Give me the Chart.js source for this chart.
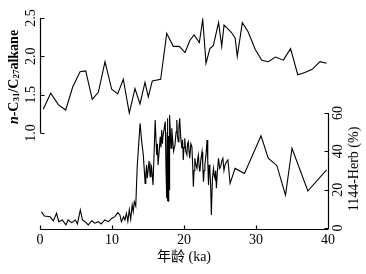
<!DOCTYPE html>
<html>
<head>
<meta charset="utf-8">
<script src="https://cdn.jsdelivr.net/npm/chart.js@4"></script>
<style>
  body { margin: 0; background: #fff; }
  #wrap { position: relative; width: 366px; height: 274px; }
  canvas { position: absolute; left: 0; top: 0; }
</style>
</head>
<body>
<div id="wrap">
  <canvas id="alkane" width="366" height="274"></canvas>
  <canvas id="herb" width="366" height="274"></canvas>
</div>
<script>
// n-C31/C27 alkane ratio (upper curve)
const alkaneAge = [0.46, 1.49, 2.54, 3.57, 4.54, 5.56, 6.35, 7.26, 8.1, 9.03, 9.96, 10.79, 11.57, 12.4,
  13.19, 13.89, 14.58, 15.04, 15.6, 16.76, 17.6, 18.51, 19.35, 20.14, 20.83, 21.39, 22.13, 22.6, 23.06,
  23.6, 24.07, 24.8, 25.24, 25.56, 26.6, 27.1, 27.4, 28.1, 28.9, 29.9, 30.8, 31.7, 32.7, 33.8, 34.8,
  35.8, 36.8, 37.8, 38.9, 39.8];
const alkaneRatio = [1.31, 1.52, 1.37, 1.30, 1.60, 1.80, 1.81, 1.44, 1.53, 1.93, 1.57, 1.51, 1.70, 1.26,
  1.58, 1.38, 1.66, 1.47, 1.68, 1.70, 2.30, 2.13, 2.13, 2.05, 2.21, 2.28, 2.18, 2.48, 1.91,
  2.10, 2.14, 2.44, 2.13, 2.41, 2.31, 2.24, 2.00, 2.44, 2.32, 2.09, 1.95, 1.93, 1.99, 1.95, 2.10,
  1.76, 1.79, 1.83, 1.93, 1.91];

// 1144-Herb pollen percentage (lower curve)
const herbAge = [0.2, 0.6, 1.4, 1.85, 2.3, 2.6, 3.1, 3.6, 3.9, 4.4, 4.9, 5.2, 5.6, 5.9, 6.25, 6.7, 7.2,
  7.6, 8.1, 8.5, 9.0, 9.5, 10.0, 10.4, 10.8, 11.1, 11.3, 11.6, 11.8, 12.0, 12.2, 12.4, 12.6, 12.8, 12.95,
  13.1, 13.3, 13.5, 13.9, 14.1, 14.35, 14.6, 14.7, 14.8, 14.9, 15.0, 15.15, 15.3, 15.4, 15.5, 15.6, 15.7,
  16.0, 16.2, 16.3, 16.4, 16.55, 16.7, 16.8, 16.9, 17.0, 17.1, 17.25, 17.4, 17.5, 17.6, 17.65, 17.7,
  17.75, 17.8, 17.85, 17.9, 17.95, 18.0, 18.1, 18.2, 18.3, 18.4, 18.55, 18.75, 18.9, 19.0, 19.1, 19.2,
  19.3, 19.4, 19.55, 19.7, 19.8, 19.9, 20.0, 20.1, 20.25, 20.4, 20.5, 20.6, 20.7, 20.8, 20.95, 21.1,
  21.2, 21.3, 21.4, 21.5, 21.65, 21.8, 21.9, 22.0, 22.1, 22.2, 22.35, 22.5, 22.6, 22.7, 22.8, 22.9,
  23.05, 23.2, 23.3, 23.4, 23.5, 23.6, 23.7, 23.8, 23.95, 24.1, 24.2, 24.3, 24.4, 24.5, 24.65, 24.8,
  24.95, 25.1, 25.25, 25.4, 25.55, 25.7, 25.9, 26.1, 26.4, 27.1, 28.4, 30.7, 31.7, 32.9, 34.1, 35.0,
  37.2, 39.8];
const herbPct = [8.5, 6.3, 5.9, 3.7, 7.7, 3.3, 4.2, 1.6, 4.2, 2.8, 4.2, 2.1, 9.4, 4.2, 3.3, 1.6, 3.8,
  2.5, 3.3, 2.1, 4.2, 3.3, 5.1, 5.9, 8.0, 6.8, 3.3, 5.9, 4.2, 7.7, 3.5, 9.5, 4.5, 12.0, 8.5,
  13.7, 11.5, 32, 54.6, 46, 38, 23.3, 28, 32.9, 26, 29.4, 35, 26.8, 33, 32, 27, 22.4,
  56.3, 38.1, 44, 32.9, 40, 47.6, 42, 51.1, 44, 48.5, 52, 55.5, 30, 15.5, 50, 57.2,
  14, 48, 13.7, 45, 20, 59, 50, 41.6, 52, 47.6, 40, 43.3, 50, 56.3, 48, 45.0,
  53, 57.2, 47, 41.6, 46, 35.5, 42, 46.8, 40, 38.1, 44, 45.0, 40, 36.4, 44, 42.4,
  33, 21.5, 30, 36.4, 33, 31.1, 36, 38.1, 32, 29.4, 36, 39.8, 33, 24.2, 30, 32.9,
  38, 45.9, 35, 22.4, 33, 29.4, 22, 6.8, 26, 31.1, 27, 25.9, 30, 20.7, 30, 36.4,
  31, 32, 35, 36.4, 30, 32.9, 34.6, 35.5, 23.3, 31.1, 28.5, 48.1, 36.4, 32.5, 17.2, 41.6,
  19.3, 30.3];

const ageTicks = [0, 10, 20, 30, 40];
const ratioTicks = [1.0, 1.5, 2.0, 2.5];
const herbTicks = [0, 20, 40, 60];

const SERIF = '"Liberation Serif", "Times New Roman", serif';

function points(xs, ys) {
  return xs.map((x, i) => ({ x: x, y: ys[i] }));
}

function vLabel(ctx, text, x, y, font) {
  ctx.save();
  ctx.translate(x, y);
  ctx.rotate(-Math.PI / 2);
  ctx.font = font;
  ctx.textAlign = "center";
  ctx.textBaseline = "middle";
  ctx.fillText(text, 0, 0);
  ctx.restore();
}

// left axis + title for the alkane ratio
const alkaneAxis = {
  id: "alkaneAxis",
  afterDraw(chart) {
    const ctx = chart.ctx;
    const ys = chart.scales.y;
    const ax = 40.5;
    ctx.save();
    ctx.strokeStyle = "#000";
    ctx.fillStyle = "#000";
    ctx.lineWidth = 1.2;
    ctx.beginPath();
    ctx.moveTo(ax, ys.getPixelForValue(1.0));
    ctx.lineTo(ax, ys.getPixelForValue(2.5));
    ratioTicks.forEach(v => {
      const py = Math.round(ys.getPixelForValue(v)) + 0.5;
      ctx.moveTo(ax, py);
      ctx.lineTo(ax + 4, py);
    });
    ctx.stroke();
    ratioTicks.forEach(v => {
      vLabel(ctx, v.toFixed(1), 31, ys.getPixelForValue(v), "14px " + SERIF);
    });

    // n-C31/C27alkane with subscripts
    const parts = [
      { t: "n", f: "italic bold 14px " + SERIF, dy: 0 },
      { t: "-C", f: "bold 14px " + SERIF, dy: 0 },
      { t: "31", f: "bold 9px " + SERIF, dy: 3 },
      { t: "/C", f: "bold 14px " + SERIF, dy: 0 },
      { t: "27", f: "bold 9px " + SERIF, dy: 3 },
      { t: "alkane", f: "bold 14px " + SERIF, dy: 0 }
    ];
    let total = 0;
    parts.forEach(p => { ctx.font = p.f; p.w = ctx.measureText(p.t).width; total += p.w; });
    ctx.translate(14, 77);
    ctx.rotate(-Math.PI / 2);
    ctx.textBaseline = "middle";
    ctx.textAlign = "left";
    let cx = -total / 2;
    parts.forEach(p => {
      ctx.font = p.f;
      ctx.fillText(p.t, cx, p.dy);
      cx += p.w;
    });
    ctx.restore();
  }
};

// bottom age axis + right herb axis
const herbAxis = {
  id: "herbAxis",
  afterDraw(chart) {
    const ctx = chart.ctx;
    const xs = chart.scales.x;
    const ys = chart.scales.y;
    const baseY = 229.5;
    const rx = 328.5;
    ctx.save();
    ctx.strokeStyle = "#000";
    ctx.fillStyle = "#000";
    ctx.lineWidth = 1.2;
    ctx.beginPath();
    ctx.moveTo(xs.getPixelForValue(0), baseY);
    ctx.lineTo(xs.getPixelForValue(40), baseY);
    ageTicks.forEach(v => {
      const px = Math.round(xs.getPixelForValue(v)) + 0.5;
      ctx.moveTo(px, baseY);
      ctx.lineTo(px, baseY - 4);
    });
    ctx.moveTo(rx, ys.getPixelForValue(0));
    ctx.lineTo(rx, ys.getPixelForValue(60));
    herbTicks.forEach(v => {
      const py = Math.round(ys.getPixelForValue(v)) + 0.5;
      ctx.moveTo(rx, py);
      ctx.lineTo(rx - 4, py);
    });
    ctx.stroke();

    ctx.font = "14px " + SERIF;
    ctx.textAlign = "center";
    ctx.textBaseline = "middle";
    ageTicks.forEach(v => {
      ctx.fillText(String(v), xs.getPixelForValue(v), 240);
    });
    herbTicks.forEach(v => {
      vLabel(ctx, String(v), 338, ys.getPixelForValue(v), "14px " + SERIF);
    });
    vLabel(ctx, "1144-Herb (%)", 354, 169, "14px " + SERIF);

    ctx.font = '14px "Liberation Serif", "Noto Sans CJK SC", serif';
    ctx.fillText("年龄 (ka)", 184, 257);
    ctx.restore();
  }
};

function lineChart(id, data, yMin, yMax, padding, plugin) {
  return new Chart(document.getElementById(id).getContext("2d"), {
    type: "line",
    data: {
      datasets: [{
        data: data,
        borderColor: "#000",
        borderWidth: 1.1,
        pointRadius: 0,
        tension: 0,
        fill: false
      }]
    },
    options: {
      responsive: false,
      animation: false,
      devicePixelRatio: 1,
      layout: { padding: padding },
      plugins: { legend: { display: false }, tooltip: { enabled: false } },
      scales: {
        x: { type: "linear", min: 0, max: 40, display: false },
        y: { type: "linear", min: yMin, max: yMax, display: false }
      }
    },
    plugins: [plugin]
  });
}

lineChart("alkane", points(alkaneAge, alkaneRatio), 1.0, 2.5,
  { left: 40, right: 38, top: 18, bottom: 141 }, alkaneAxis);
lineChart("herb", points(herbAge, herbPct), 0, 60,
  { left: 40, right: 38, top: 113, bottom: 46 }, herbAxis);
</script>
</body>
</html>
